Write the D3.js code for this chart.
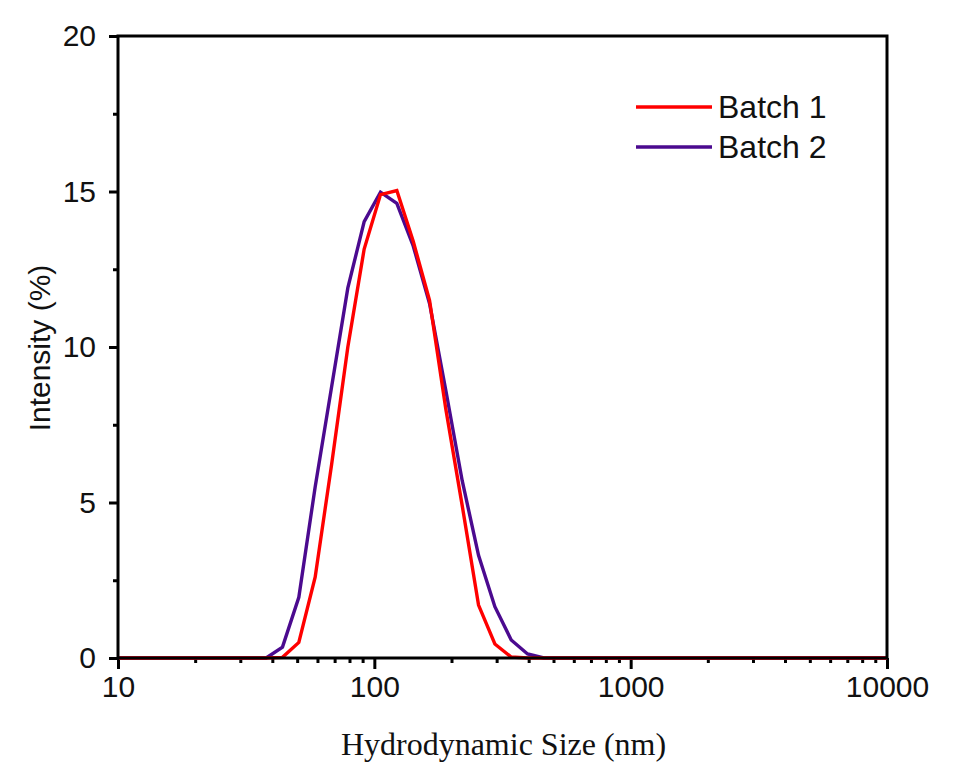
<!DOCTYPE html>
<html>
<head>
<meta charset="utf-8">
<script src="https://cdn.jsdelivr.net/npm/d3@7"></script>
<style>
  body { margin: 0; background: #fff; }
</style>
</head>
<body>
<div id="chart"></div>
<script>
// size bins (nm) and intensities (%)
var sizes = [10.1, 11.7, 13.54, 15.69, 18.17, 21.04, 24.36, 28.21, 32.67, 37.84,
  43.82, 50.75, 58.77, 68.06, 78.82, 91.28, 105.7, 122.4, 141.8, 164.2,
  190.1, 220.2, 255, 295.3, 342, 396.1, 458.7, 531.2, 615.1, 712.4,
  825, 955.4, 1106, 1281, 1484, 1718, 1990, 2305, 2669, 3091,
  3580, 4145, 4801, 5560, 6439, 7456, 8635, 10000];
var batch1 = [0, 0, 0, 0, 0, 0, 0, 0, 0, 0,
  0.02, 0.5, 2.6, 6.2, 10.0, 13.15, 14.9, 15.03, 13.4, 11.5,
  8.0, 4.9, 1.7, 0.45, 0.03, 0, 0, 0, 0, 0,
  0, 0, 0, 0, 0, 0, 0, 0, 0, 0,
  0, 0, 0, 0, 0, 0, 0, 0];
var batch2 = [0, 0, 0, 0, 0, 0, 0, 0, 0, 0,
  0.35, 1.95, 5.5, 8.7, 11.9, 14.03, 14.98, 14.62, 13.25, 11.4,
  8.6, 5.7, 3.3, 1.65, 0.58, 0.13, 0, 0, 0, 0,
  0, 0, 0, 0, 0, 0, 0, 0, 0, 0,
  0, 0, 0, 0, 0, 0, 0, 0];
var seriesNames = ['Batch 1', 'Batch 2'];
var seriesColors = ['#ff0000', '#4b0a8f'];
var xTicks = [10, 100, 1000, 10000];
var yTicks = [0, 5, 10, 15, 20];

var W = 955, H = 779;
var margin = { top: 36, right: 68, bottom: 121, left: 118 },
    width = W - margin.left - margin.right,
    height = H - margin.top - margin.bottom;

var svg = d3.select('#chart').append('svg')
    .attr('width', W)
    .attr('height', H)
    .append('g')
    .attr('transform', 'translate(' + margin.left + ',' + margin.top + ')');

var x = d3.scaleLog().domain([10, 10000]).range([0, width]);
var y = d3.scaleLinear().domain([0, 20]).range([height, 0]);

// minor ticks
var xMinor = [];
for (var d = 10; d < 10000; d *= 10) {
    for (var k = 2; k <= 9; k++) xMinor.push(d * k);
}
var yMinor = [2.5, 7.5, 12.5, 17.5];

var axisFont = 'normal 30px "Liberation Sans", Arial, sans-serif';

// x axis
svg.append('g')
    .attr('transform', 'translate(0,' + height + ')')
    .call(d3.axisBottom(x).tickValues(xMinor).tickSize(5).tickFormat(''))
    .call(function (g) { g.select('.domain').remove(); })
    .selectAll('line').attr('stroke-width', 3);

var xAxis = svg.append('g')
    .attr('transform', 'translate(0,' + height + ')')
    .call(d3.axisBottom(x).tickValues(xTicks).tickSize(11).tickPadding(7).tickFormat(d3.format('d')))
    .style('font', axisFont);
xAxis.selectAll('line').attr('stroke-width', 3);
xAxis.select('.domain').remove();

// y axis
svg.append('g')
    .call(d3.axisLeft(y).tickValues(yMinor).tickSize(5).tickFormat(''))
    .call(function (g) { g.select('.domain').remove(); })
    .selectAll('line').attr('stroke-width', 3);

var yAxis = svg.append('g')
    .call(d3.axisLeft(y).tickValues(yTicks).tickSize(9).tickPadding(13))
    .style('font', axisFont);
yAxis.selectAll('line').attr('stroke-width', 3);
yAxis.select('.domain').remove();
yAxis.selectAll('text').attr('fill', '#111');
xAxis.selectAll('text').attr('fill', '#111');

// data lines
var line = d3.line()
    .x(function (d) { return x(d[0]); })
    .y(function (d) { return y(d[1]); });

[batch2, batch1].forEach(function (vals, i) {
    var idx = 1 - i;
    var pts = sizes.map(function (s, j) { return [s, vals[j]]; });
    svg.append('path')
        .datum(pts)
        .attr('fill', 'none')
        .attr('stroke', seriesColors[idx])
        .attr('stroke-width', 3.4)
        .attr('stroke-linejoin', 'miter')
        .attr('d', line);
});

// frame
svg.append('rect')
    .attr('x', 0).attr('y', 0)
    .attr('width', width).attr('height', height)
    .attr('fill', 'none')
    .attr('stroke', '#000')
    .attr('stroke-width', 3);

// axis titles
svg.append('text')
    .attr('x', width / 2 + 1)
    .attr('y', height + 97)
    .attr('text-anchor', 'middle')
    .style('font', 'normal 32px "Liberation Serif", "Times New Roman", serif')
    .attr('fill', '#111')
    .text('Hydrodynamic Size (nm)');

svg.append('text')
    .attr('transform', 'translate(' + (-68) + ',' + (height / 2 + 1) + ') rotate(-90)')
    .attr('text-anchor', 'middle')
    .style('font', axisFont)
    .attr('fill', '#111')
    .text('Intensity (%)');

// legend
var legend = svg.append('g')
    .attr('transform', 'translate(' + (636 - margin.left) + ',' + (107 - margin.top) + ')');
seriesNames.forEach(function (name, i) {
    var g = legend.append('g').attr('transform', 'translate(0,' + (i * 40) + ')');
    g.append('line')
        .attr('x1', 0).attr('x2', 76)
        .attr('y1', 0).attr('y2', 0)
        .attr('stroke', seriesColors[i])
        .attr('stroke-width', 3.4);
    g.append('text')
        .attr('x', 82)
        .attr('y', 11)
        .style('font', 'normal 32px "Liberation Sans", Arial, sans-serif')
        .attr('fill', '#111')
        .text(name);
});
</script>
</body>
</html>
